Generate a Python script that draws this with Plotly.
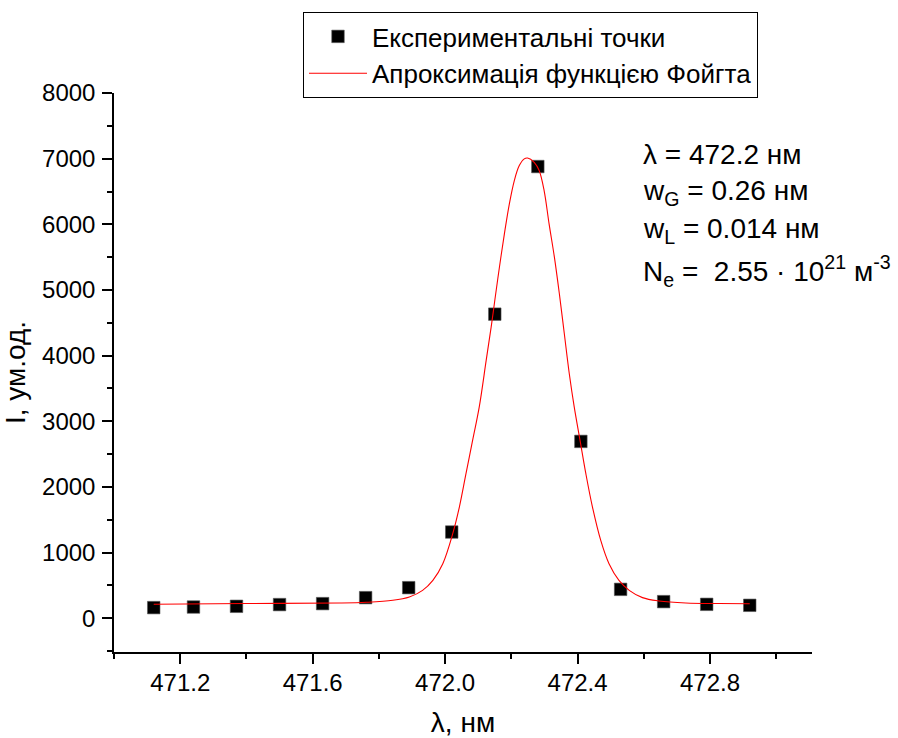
import plotly.graph_objects as go

# Experimental points
exp_wl = [471.12, 471.24, 471.37, 471.50, 471.63, 471.76, 471.89, 472.02,
          472.15, 472.28, 472.41, 472.53, 472.66, 472.79, 472.92]
exp_I = [163, 172, 183, 209, 224, 315, 467, 1314,
         4632, 6880, 2694, 441, 254, 213, 198]

# Voigt fit curve
fit_wl = [471.120, 471.400, 471.681, 471.762, 471.842, 471.892, 471.932, 471.963,
          471.993, 472.023, 472.043, 472.063, 472.083, 472.103, 472.124, 472.139,
          472.150, 472.164, 472.179, 472.194, 472.209, 472.224, 472.239, 472.249,
          472.269, 472.284, 472.299, 472.314, 472.330, 472.345, 472.360, 472.375,
          472.390, 472.408, 472.425, 472.445, 472.470, 472.495, 472.525, 472.556,
          472.596, 472.646, 472.727, 472.827, 472.920]
fit_I = [215, 225, 233, 244, 274, 325, 426, 578,
         832, 1289, 1694, 2202, 2709, 3216, 3927, 4434,
         4840, 5347, 5855, 6312, 6667, 6895, 6997, 7010,
         6945, 6819, 6514, 6007, 5500, 4942, 4333, 3724,
         3216, 2694, 2202, 1694, 1187, 832, 578, 426,
         315, 264, 233, 225, 222]

legend_names = ["Експериментальні точки", "Апроксимація функцією Фойгта"]
x_title = "λ, нм"
y_title = "I, ум.од."
info_lines = ["λ = 472.2 нм",
              "w<sub>G</sub> = 0.26 нм",
              "w<sub>L</sub> = 0.014 нм",
              "N<sub>e</sub> =  2.55 · 10<sup>21</sup> м<sup>-3</sup>"]

FONT = "Liberation Sans, Arial, sans-serif"

fig = go.Figure()
fig.add_trace(go.Scatter(
    x=exp_wl, y=exp_I, mode="markers", name=legend_names[0],
    marker=dict(symbol="square", size=12.5, color="black",
                line=dict(width=0.6, color="#555555")),
))
fig.add_trace(go.Scatter(
    x=fit_wl, y=fit_I, mode="lines", name=legend_names[1],
    line=dict(color="#ff0000", width=1.1, shape="spline", smoothing=1.0),
))

L, R, T, B = 114, 86, 93, 86
W, H = 898, 738
plot_h = H - T - B
plot_w = W - L - R

def py(ypx):
    return (H - B - ypx) / plot_h

def px(xpx):
    return (xpx - L) / plot_w

info_y = [155, 192, 230, 271]
for txt, yy in zip(info_lines, info_y):
    fig.add_annotation(text=txt, xref="paper", yref="paper",
                       x=px(641), y=py(yy), xanchor="left", yanchor="middle",
                       showarrow=False, font=dict(size=28, color="black", family=FONT))

axis_common = dict(
    showline=True, linecolor="black", linewidth=1.5, mirror=False,
    showgrid=False, zeroline=False, ticks="outside", ticklen=10,
    tickwidth=1.5, tickcolor="black", automargin=False,
    tickfont=dict(size=24, color="black", family=FONT),
)

fig.update_layout(
    width=W, height=H,
    margin=dict(l=L, r=R, t=T, b=B, autoexpand=False),
    paper_bgcolor="white", plot_bgcolor="white",
    font=dict(family=FONT, color="black"),
    showlegend=True,
    legend=dict(
        x=px(303), y=py(12), xanchor="left", yanchor="top",
        bordercolor="black", borderwidth=1, bgcolor="white",
        font=dict(size=26, color="black", family=FONT),
        tracegroupgap=0, itemwidth=58,
    ),
    xaxis=dict(
        range=[471.0, 473.108], tick0=471.2, dtick=0.4, tickformat=".1f",
        minor=dict(dtick=0.2, ticklen=5, tickwidth=1.5, tickcolor="black", ticks="outside"),
        title=dict(text=x_title, font=dict(size=28, color="black", family=FONT), standoff=30),
        ticklabelstandoff=-2,
        **axis_common,
    ),
    yaxis=dict(
        range=[-513, 8000], tick0=0, dtick=1000,
        minor=dict(dtick=500, ticklen=5, tickwidth=1.5, tickcolor="black", ticks="outside"),
        title=dict(text=y_title, font=dict(size=28, color="black", family=FONT), standoff=13),
        ticklabelstandoff=2,
        **axis_common,
    ),
)

fig.write_html("out.html",
               config={"displayModeBar": False},
               post_script="document.body.style.margin='0px';document.body.style.overflow='hidden';")
